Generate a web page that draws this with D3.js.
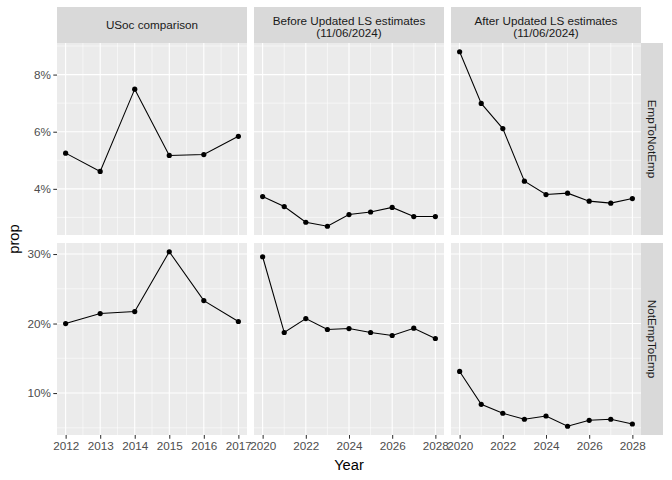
<!DOCTYPE html>
<html>
<head>
<meta charset="utf-8">
<script src="https://cdn.jsdelivr.net/npm/d3@7"></script>
<style>
body { margin: 0; background: #fff; }
text { font-family: "Liberation Sans", Arial, sans-serif; }
</style>
</head>
<body>
<svg id="chart" width="672" height="480"></svg>
<script>
// facet labels
var colLabels = [["USoc comparison"], ["Before Updated LS estimates", "(11/06/2024)"], ["After Updated LS estimates", "(11/06/2024)"]];
var rowLabels = ["EmpToNotEmp", "NotEmpToEmp"];

// years per column
var yearsUsoc = [2012, 2013, 2014, 2015, 2016, 2017];
var yearsProj = [2020, 2021, 2022, 2023, 2024, 2025, 2026, 2027, 2028];

// EmpToNotEmp values (proportion)
var e2nUsoc = [0.0525, 0.0461, 0.0749, 0.0517, 0.0520, 0.0584];
var e2nBefore = [0.0373, 0.0338, 0.0283, 0.0269, 0.0310, 0.0319, 0.0335, 0.0303, 0.0303];
var e2nAfter = [0.0880, 0.0699, 0.0611, 0.0427, 0.0380, 0.0385, 0.0357, 0.0350, 0.0366];

// NotEmpToEmp values (proportion)
var n2eUsoc = [0.2000, 0.2143, 0.2172, 0.3033, 0.2330, 0.2029];
var n2eBefore = [0.2961, 0.1871, 0.2072, 0.1914, 0.1928, 0.1871, 0.1828, 0.1933, 0.1785];
var n2eAfter = [0.1311, 0.0838, 0.0709, 0.0623, 0.0670, 0.0522, 0.0608, 0.0623, 0.0555];

// tick labels
var xTicksUsoc = [2012, 2013, 2014, 2015, 2016, 2017];
var xTicksProj = [2020, 2022, 2024, 2026, 2028];
var yTicksTop = [0.04, 0.06, 0.08];
var yTicksBottom = [0.10, 0.20, 0.30];

var svg = d3.select("#chart");

var colX = [57, 254, 451];
var panelW = 190;
var rowY = [43, 243];
var panelH = 192;

var colYears = [yearsUsoc, yearsProj, yearsProj];
var colXTicks = [xTicksUsoc, xTicksProj, xTicksProj];
var cells = [[e2nUsoc, e2nBefore, e2nAfter], [n2eUsoc, n2eBefore, n2eAfter]];
var rowYTicks = [yTicksTop, yTicksBottom];

function expand(ext) {
	var pad = (ext[1] - ext[0]) * 0.05;
	return [ext[0] - pad, ext[1] + pad];
}

// free x scale per column
var xScales = colYears.map(function(yrs, i) {
	return d3.scaleLinear().domain(expand(d3.extent(yrs))).range([colX[i], colX[i] + panelW]);
});

// free y scale per row
var yScales = cells.map(function(row, r) {
	var all = d3.merge(row);
	return d3.scaleLinear().domain(expand(d3.extent(all))).range([rowY[r] + panelH, rowY[r]]);
});

function minorOf(ticks, domain) {
	var step = ticks[1] - ticks[0];
	var out = [];
	for (var v = ticks[0] - step / 2; v <= domain[1]; v += step) {
		if (v >= domain[0]) out.push(v);
	}
	return out;
}

var fmtPct = d3.format(".0%");

for (var r = 0; r < 2; r++) {
	for (var c = 0; c < 3; c++) {
		var xs = xScales[c], ys = yScales[r];
		var g = svg.append("g");
		g.append("rect")
			.attr("x", colX[c]).attr("y", rowY[r])
			.attr("width", panelW).attr("height", panelH)
			.attr("fill", "#EBEBEB");

		// grid
		var yMinor = minorOf(rowYTicks[r], ys.domain());
		var xMinor = minorOf(colXTicks[c], xs.domain());
		g.selectAll(".ymin").data(yMinor).enter().append("line")
			.attr("x1", colX[c]).attr("x2", colX[c] + panelW)
			.attr("y1", d => ys(d)).attr("y2", d => ys(d))
			.attr("stroke", "#fff").attr("stroke-width", 0.55);
		g.selectAll(".xmin").data(xMinor).enter().append("line")
			.attr("y1", rowY[r]).attr("y2", rowY[r] + panelH)
			.attr("x1", d => xs(d)).attr("x2", d => xs(d))
			.attr("stroke", "#fff").attr("stroke-width", 0.55);
		g.selectAll(".ymaj").data(rowYTicks[r]).enter().append("line")
			.attr("x1", colX[c]).attr("x2", colX[c] + panelW)
			.attr("y1", d => ys(d)).attr("y2", d => ys(d))
			.attr("stroke", "#fff").attr("stroke-width", 1.1);
		g.selectAll(".xmaj").data(colXTicks[c]).enter().append("line")
			.attr("y1", rowY[r]).attr("y2", rowY[r] + panelH)
			.attr("x1", d => xs(d)).attr("x2", d => xs(d))
			.attr("stroke", "#fff").attr("stroke-width", 1.1);

		// data
		var pts = colYears[c].map((yr, i) => [yr, cells[r][c][i]]);
		g.append("path")
			.datum(pts)
			.attr("fill", "none").attr("stroke", "#000").attr("stroke-width", 1.05)
			.attr("d", d3.line().x(d => xs(d[0])).y(d => ys(d[1])));
		g.selectAll("circle").data(pts).enter().append("circle")
			.attr("cx", d => xs(d[0])).attr("cy", d => ys(d[1]))
			.attr("r", 2.6).attr("fill", "#000");
	}
}

// y axes (left column)
for (var r = 0; r < 2; r++) {
	var ax = svg.append("g")
		.attr("transform", "translate(" + colX[0] + ",0)")
		.call(d3.axisLeft(yScales[r]).tickValues(rowYTicks[r]).tickFormat(fmtPct).tickSize(3.7).tickPadding(2.5));
	ax.select(".domain").remove();
	ax.selectAll("line").attr("stroke", "#333333").attr("stroke-width", 1.05);
	ax.selectAll("text").attr("fill", "#4D4D4D").style("font-size", "11.7px")
		.style("font-family", "'Liberation Sans', Arial, sans-serif");
}

// x axes (bottom row)
for (var c = 0; c < 3; c++) {
	var ax = svg.append("g")
		.attr("transform", "translate(0," + (rowY[1] + panelH) + ")")
		.call(d3.axisBottom(xScales[c]).tickValues(colXTicks[c]).tickFormat(d3.format("d")).tickSize(3.7).tickPadding(2.5));
	ax.select(".domain").remove();
	ax.selectAll("line").attr("stroke", "#333333").attr("stroke-width", 1.05);
	ax.selectAll("text").attr("fill", "#4D4D4D").style("font-size", "11.7px")
		.style("font-family", "'Liberation Sans', Arial, sans-serif");
}

// top strips
colLabels.forEach(function(lines, c) {
	svg.append("rect")
		.attr("x", colX[c]).attr("y", 7).attr("width", panelW).attr("height", 36)
		.attr("fill", "#D9D9D9");
	var t = svg.append("text")
		.attr("x", colX[c] + panelW / 2)
		.attr("text-anchor", "middle")
		.attr("fill", "#1A1A1A").style("font-size", "11.7px");
	if (lines.length === 1) {
		t.append("tspan").attr("x", colX[c] + panelW / 2).attr("y", 29.2).text(lines[0]);
	} else {
		t.append("tspan").attr("x", colX[c] + panelW / 2).attr("y", 24.5).text(lines[0]);
		t.append("tspan").attr("x", colX[c] + panelW / 2).attr("y", 37.2).text(lines[1]);
	}
});

// right strips
rowLabels.forEach(function(lbl, r) {
	svg.append("rect")
		.attr("x", colX[2] + panelW).attr("y", rowY[r]).attr("width", 22).attr("height", panelH)
		.attr("fill", "#D9D9D9");
	var cx = colX[2] + panelW + 11, cy = rowY[r] + panelH / 2;
	svg.append("text")
		.attr("transform", "translate(" + cx + "," + cy + ") rotate(90)")
		.attr("text-anchor", "middle").attr("dy", "0.35em")
		.attr("fill", "#1A1A1A").style("font-size", "11.7px")
		.text(lbl);
});

// axis titles
svg.append("text")
	.attr("x", colX[1] + panelW / 2).attr("y", 469.5)
	.attr("text-anchor", "middle").attr("fill", "#000").style("font-size", "14.7px")
	.text("Year");
svg.append("text")
	.attr("transform", "translate(18.5," + ((rowY[0] + rowY[1] + panelH) / 2) + ") rotate(-90)")
	.attr("text-anchor", "middle").attr("fill", "#000").style("font-size", "14.7px")
	.text("prop");
</script>
</body>
</html>
